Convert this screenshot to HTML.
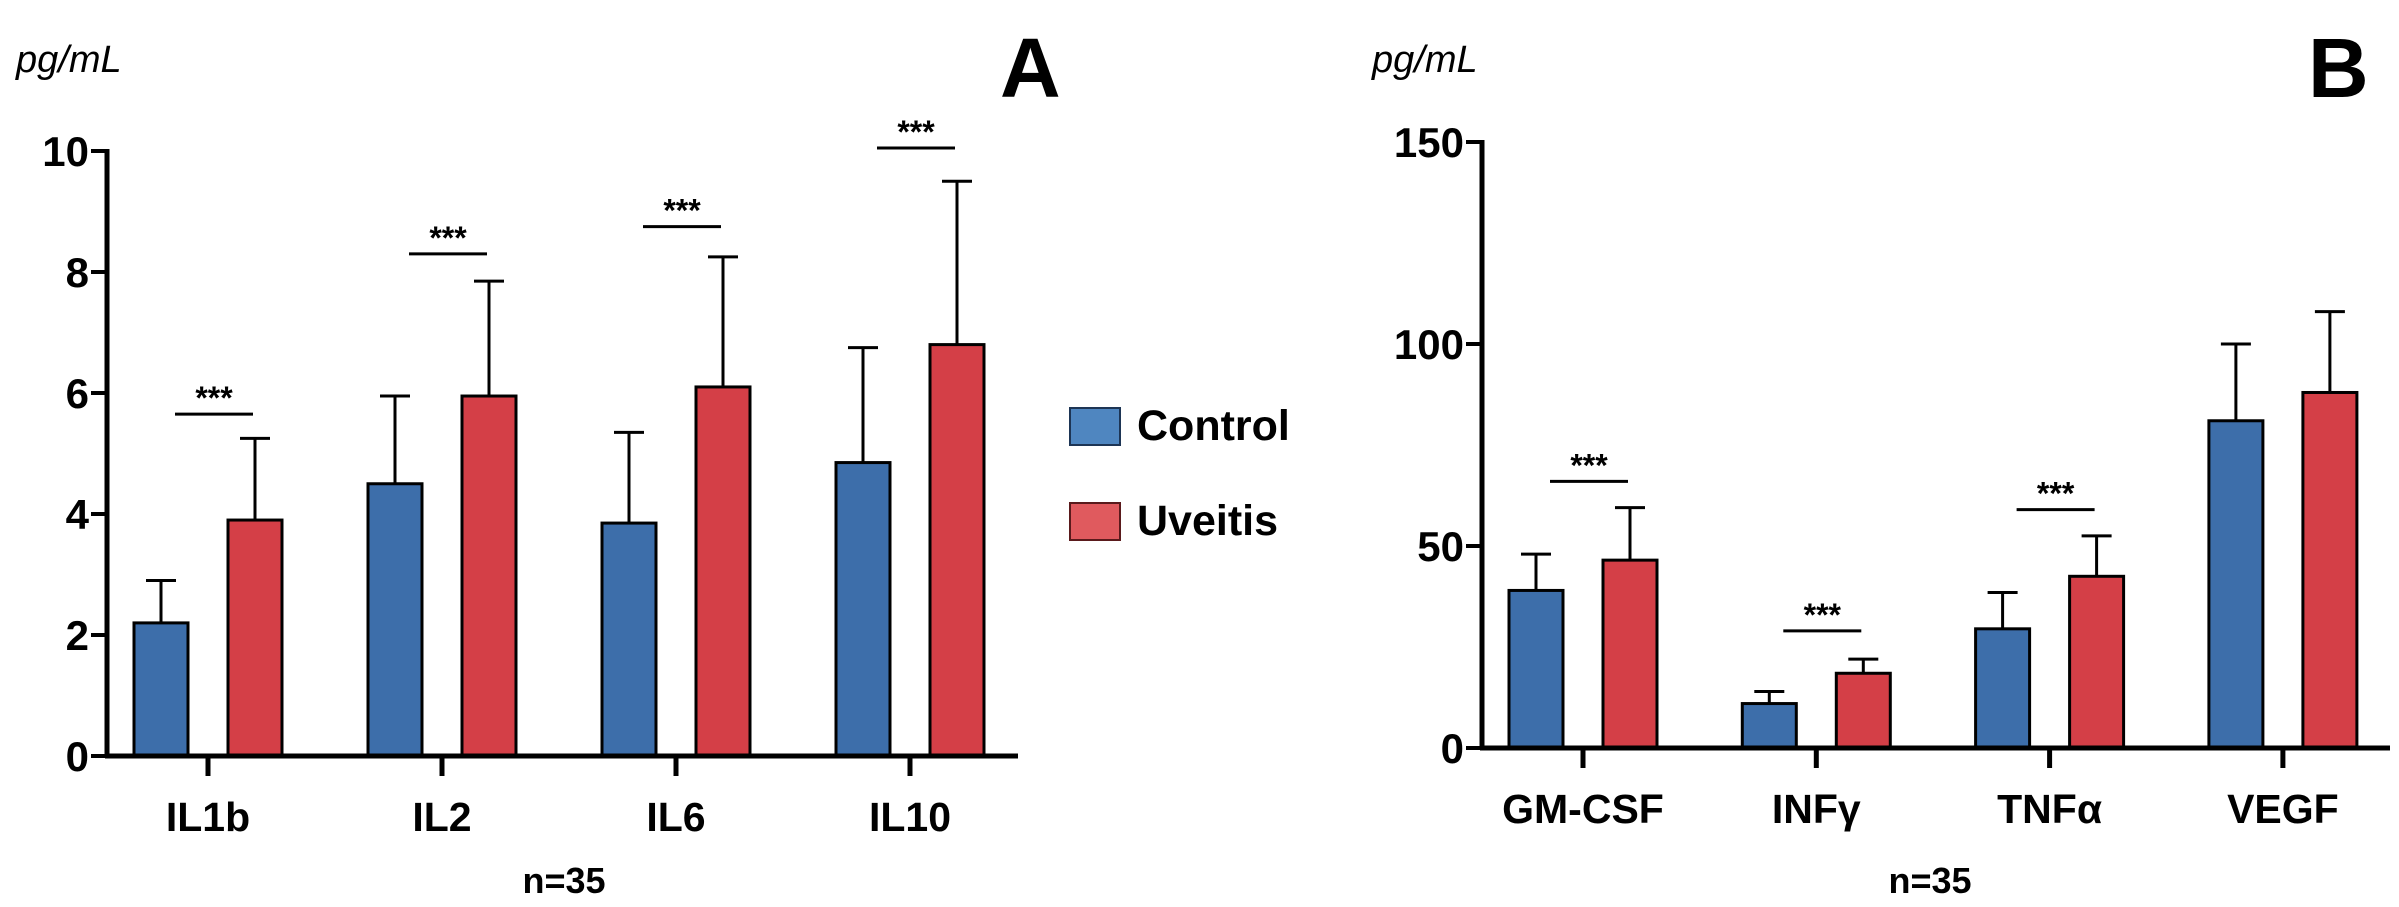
<!DOCTYPE html>
<html><head><meta charset="utf-8"><style>
html,body{margin:0;padding:0;background:#fff;}
svg{display:block;font-family:"Liberation Sans",sans-serif;}
</style></head><body>
<svg id="chart" width="2399" height="907" viewBox="0 0 2399 907" xmlns="http://www.w3.org/2000/svg">
<g id="gA"></g>
<g id="gB"></g>
<g>
<rect x="1070" y="408" width="50" height="37" fill="#4f86c0" stroke="#1d3555" stroke-width="2"/>
<text x="1137" y="440" font-size="43" font-weight="bold">Control</text>
<rect x="1070" y="503" width="50" height="37" fill="#e05a5e" stroke="#5a1a1c" stroke-width="2"/>
<text x="1137" y="535" font-size="43" font-weight="bold">Uveitis</text>
</g>
</svg>
<script>
const catsA = ["IL1b","IL2","IL6","IL10"];
const ctrlA = [2.2,4.5,3.85,4.85];
const ctrlErrA = [2.9,5.95,5.35,6.75];
const uveA = [3.9,5.95,6.1,6.8];
const uveErrA = [5.25,7.85,8.25,9.5];
const sigA = [5.65,8.3,8.75,10.05];
const ticksA = [0,2,4,6,8,10];

const catsB = ["GM-CSF","INFγ","TNFα","VEGF"];
const ctrlB = [39,11,29.5,81];
const ctrlErrB = [48,14,38.5,100];
const uveB = [46.5,18.5,42.5,88];
const uveErrB = [59.5,22,52.5,108];
const sigB = [66,29,59,null];
const ticksB = [0,50,100,150];

const NS="http://www.w3.org/2000/svg";
function mk(parent,tag,attrs){const e=document.createElementNS(NS,tag);for(const k in attrs)e.setAttribute(k,attrs[k]);parent.appendChild(e);return e;}

function panel(g,cfg){
  const y=v=>cfg.y0-(v/cfg.max)*(cfg.y0-cfg.yTop);
  const x=i=>cfg.x0c+i*cfg.step;
  cfg.cats.forEach((c,i)=>{
    const cx=x(i);
    [[cfg.ctrl,cfg.ctrlErr,-47,"#3d6eaa","control"],[cfg.uve,cfg.uveErr,47,"#d43f47","uveitis"]].forEach(([vals,errs,off,col,nm])=>{
      const bx=cx+off-27, top=y(vals[i]);
      const el=mk(g,"line",{x1:cx+off,x2:cx+off,y1:top,y2:y(errs[i]),stroke:"#000","stroke-width":3});
      
      
      const cap=mk(g,"line",{x1:cx+off-15,x2:cx+off+15,y1:y(errs[i]),y2:y(errs[i]),stroke:"#000","stroke-width":3});
      
      
      const r=mk(g,"rect",{x:bx,y:top,width:54,height:cfg.y0-top,fill:col,stroke:"#000","stroke-width":3});
      
      
    });
    if(cfg.sig[i]!=null){
      const sy=y(cfg.sig[i]);
      const l=mk(g,"line",{x1:cx-33,x2:cx+45,y1:sy,y2:sy,stroke:"#000","stroke-width":3});
      
      
      const t=mk(g,"text",{x:cx+6,y:sy-5,"font-size":32,"font-weight":"bold","text-anchor":"middle"});
      t.textContent="***";
      
      
    }
    const tk=mk(g,"line",{x1:cx,x2:cx,y1:cfg.y0,y2:cfg.y0+20,stroke:"#000","stroke-width":5});
    
    
    const lb=mk(g,"text",{x:cx,y:cfg.y0+75,"font-size":41,"font-weight":"bold","text-anchor":"middle"});
    lb.textContent=c;
    
    
  });
  const ya=mk(g,"line",{x1:cfg.ax,x2:cfg.ax,y1:cfg.yTop-2,y2:cfg.y0+2,stroke:"#000","stroke-width":5});
  
  
  const xa=mk(g,"line",{x1:cfg.ax-2,x2:cfg.xEnd,y1:cfg.y0,y2:cfg.y0,stroke:"#000","stroke-width":5});
  
  
  cfg.ticks.forEach(v=>{
    const tk=mk(g,"line",{x1:cfg.ax-16,x2:cfg.ax,y1:y(v),y2:y(v),stroke:"#000","stroke-width":4});
    
    
    const t=mk(g,"text",{x:cfg.ax-18,y:y(v)+15,"font-size":42,"font-weight":"bold","text-anchor":"end"});
    t.textContent=v;
    
    
  });
  const u=mk(g,"text",{x:cfg.unitX,y:72,"font-size":38,"font-style":"italic"});
  u.textContent="pg/mL";
  
  
  const L=mk(g,"text",{x:cfg.letterX,y:97,"font-size":84,"font-weight":"bold"});
  L.textContent=cfg.letter;
  
  
  const n=mk(g,"text",{x:cfg.nX,y:893,"font-size":36,"font-weight":"bold","text-anchor":"middle"});
  n.textContent="n=35";
  
  
}
panel(document.getElementById("gA"),{cats:catsA,ctrl:ctrlA,ctrlErr:ctrlErrA,uve:uveA,uveErr:uveErrA,sig:sigA,ticks:ticksA,max:10,y0:756,yTop:151,ax:107,xEnd:1018,x0c:208,step:234,unitX:16,letterX:1000,letter:"A",nX:564});
panel(document.getElementById("gB"),{cats:catsB,ctrl:ctrlB,ctrlErr:ctrlErrB,uve:uveB,uveErr:uveErrB,sig:sigB,ticks:ticksB,max:150,y0:748,yTop:142,ax:1482,xEnd:2390,x0c:1583,step:233.3,unitX:1372,letterX:2308,letter:"B",nX:1930});
</script>
</body></html>
